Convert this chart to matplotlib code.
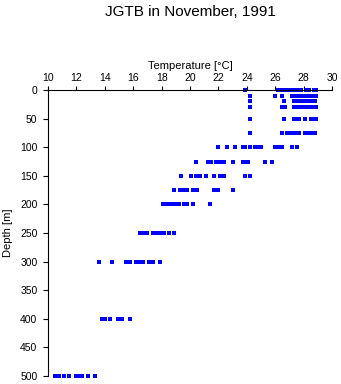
import matplotlib
matplotlib.use("Agg")
import matplotlib.pyplot as plt

plt.rcParams['font.family'] = ['Liberation Sans', 'DejaVu Sans']

# Sampling depths [m]
depths = [0, 10, 20, 30, 50, 75, 100, 125, 150, 175, 200, 250, 300, 400, 500]

# Temperatures [°C] observed at each depth (all casts of the month)
t_000 = [23.9, 26.2, 26.4, 26.6, 26.9, 27.2, 27.4, 27.6, 27.8, 28.2, 28.4, 28.7, 28.9]
t_010 = [24.2, 26.0, 26.5, 27.2, 27.4, 27.6, 27.9, 28.2, 28.4, 28.6, 28.9]
t_020 = [24.2, 26.6, 27.3, 27.5, 27.7, 27.9, 28.2, 28.4, 28.6, 28.8]
t_030 = [24.2, 26.5, 26.7, 27.3, 27.5, 27.7, 27.9, 28.2, 28.4, 28.6, 28.9]
t_050 = [24.2, 26.6, 27.3, 27.5, 27.7, 28.1, 28.5, 28.7, 28.9]
t_075 = [24.2, 26.5, 26.8, 27.1, 27.3, 27.5, 27.7, 28.1, 28.3, 28.5, 28.8]
t_100 = [22.0, 22.6, 23.2, 23.7, 23.9, 24.2, 24.6, 24.8, 25.0, 26.0, 26.2, 26.5, 27.2, 27.5]
t_125 = [20.4, 21.3, 21.5, 21.8, 22.1, 22.4, 23.0, 23.7, 23.9, 24.1, 25.3, 25.8]
t_150 = [19.4, 20.1, 20.4, 20.7, 21.1, 21.7, 22.1, 22.4, 23.9, 24.2]
t_175 = [18.9, 19.3, 19.6, 19.8, 20.2, 20.5, 21.7, 22.0, 23.0]
t_200 = [18.1, 18.3, 18.5, 18.8, 19.0, 19.2, 19.6, 19.8, 20.2, 21.4]
t_250 = [16.5, 16.7, 17.0, 17.4, 17.7, 17.9, 18.2, 18.5, 18.9]
t_300 = [13.6, 14.5, 15.5, 15.8, 16.2, 16.5, 16.7, 17.1, 17.4, 17.9]
t_400 = [13.8, 14.0, 14.4, 14.9, 15.2, 15.8]
t_500 = [10.5, 10.8, 11.1, 11.5, 12.0, 12.2, 12.4, 12.8, 13.3]

temps_by_depth = [t_000, t_010, t_020, t_030, t_050, t_075, t_100, t_125,
                  t_150, t_175, t_200, t_250, t_300, t_400, t_500]

x_ticks = list(range(10, 31, 2))
y_ticks = list(range(0, 501, 50))

fig = plt.figure(figsize=(3.41, 3.84), dpi=100)
ax = fig.add_axes([48 / 341, 1 - 376 / 384, (332 - 48) / 341, (376 - 90) / 384])

for d, temps in zip(depths, temps_by_depth):
    ax.plot(temps, [d] * len(temps), linestyle='none', marker='s',
            markersize=2.2, markeredgewidth=0, color='#0000ff',
            antialiased=False, clip_on=False)

ax.set_xlim(10, 30)
ax.set_ylim(500, 0)
ax.set_xticks(x_ticks)
ax.set_yticks(y_ticks)

ax.xaxis.tick_top()
ax.xaxis.set_label_position('top')
ax.spines['right'].set_visible(False)
ax.spines['bottom'].set_visible(False)
for s in ('top', 'left'):
    ax.spines[s].set_linewidth(0.8)
ax.tick_params(axis='x', direction='out', length=3.2, width=0.8,
               labelsize=7.5, pad=2)
ax.tick_params(axis='y', direction='out', length=3.6, width=0.8,
               labelsize=7.5, pad=4)
ax.set_xlabel('Temperature [°C]', fontsize=8, labelpad=3)
ax.set_ylabel('Depth [m]', fontsize=8, labelpad=5)

fig.text(190 / 341, 1 - 12 / 384, 'JGTB in November, 1991', ha='center',
         va='center', fontsize=11)

fig.savefig('out.png', dpi=100)
